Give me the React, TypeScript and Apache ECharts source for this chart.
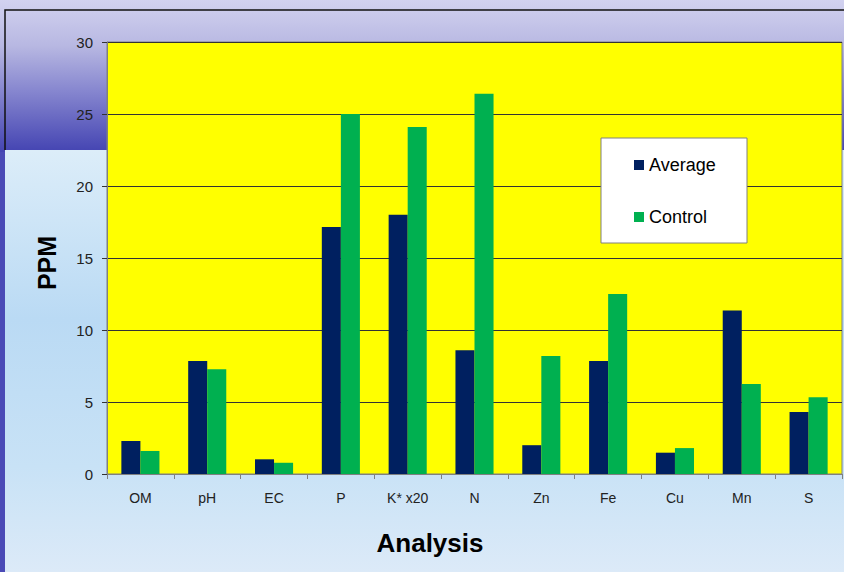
import React, { useEffect, useRef } from "react";
import * as echarts from "echarts";

const categories = ["OM", "pH", "EC", "P", "K* x20", "N", "Zn", "Fe", "Cu", "Mn", "S"];
const averageValues = [2.3, 7.85, 1.02, 17.15, 18.0, 8.6, 2.0, 7.85, 1.48, 11.35, 4.3];
const controlValues = [1.6, 7.27, 0.78, 25.0, 24.1, 26.4, 8.2, 12.5, 1.8, 6.25, 5.33];
const yTicks = { min: 0, max: 30, interval: 5 };

export default function App() {
  const ref = useRef<HTMLDivElement>(null);
  useEffect(() => {
    if (!ref.current) return;
    const chart = echarts.init(ref.current, undefined, { renderer: "svg" });
    const font = "'Liberation Sans', Arial, sans-serif";
    chart.setOption({
      animation: false,
      textStyle: { fontFamily: font },
      graphic: [
        {
          type: "rect",
          z: -10,
          silent: true,
          shape: { x: 0, y: 0, width: 844, height: 572 },
          style: { fill: "#4a4ab6" },
        },
        {
          type: "rect",
          z: -9,
          silent: true,
          shape: { x: 0, y: 0, width: 844, height: 152 },
          style: {
            fill: new echarts.graphic.LinearGradient(0, 0, 0, 1, [
              { offset: 0, color: "#d2d2f0" },
              { offset: 0.3, color: "#b8b8e2" },
              { offset: 0.6, color: "#8686cf" },
              { offset: 1, color: "#4444b2" },
            ]),
          },
        },
        {
          type: "rect",
          z: -8,
          silent: true,
          shape: { x: 5, y: 150, width: 839, height: 422 },
          style: {
            fill: new echarts.graphic.LinearGradient(0, 0, 0, 1, [
              { offset: 0, color: "#dcedf9" },
              { offset: 0.4, color: "#badaf4" },
              { offset: 0.75, color: "#c8e2f6" },
              { offset: 1, color: "#dceaf8" },
            ]),
          },
        },
        {
          type: "polyline",
          z: -7,
          silent: true,
          shape: { points: [[5, 150], [5, 10], [844, 10]] },
          style: { stroke: "#111", lineWidth: 1.5, fill: "none" },
        },
        {
          type: "rect",
          z: 5,
          silent: true,
          shape: { x: 601, y: 138, width: 146, height: 105 },
          style: { fill: "#ffffff", stroke: "#808080", lineWidth: 1 },
        },
        {
          type: "text",
          z: 6,
          silent: true,
          x: 47,
          y: 263,
          rotation: Math.PI / 2,
          style: {
            text: "PPM",
            font: `bold 25px ${font}`,
            fill: "#000",
            align: "center",
            verticalAlign: "middle",
          },
        },
        {
          type: "text",
          z: 6,
          silent: true,
          x: 430,
          y: 543,
          style: {
            text: "Analysis",
            font: `bold 26px ${font}`,
            fill: "#000",
            align: "center",
            verticalAlign: "middle",
          },
        },
      ],
      legend: {
        left: 634,
        top: 156,
        padding: 0,
        orient: "vertical",
        itemWidth: 10,
        itemHeight: 10,
        itemGap: 34,
        icon: "rect",
        z: 10,
        textStyle: { fontSize: 18, color: "#000", fontFamily: font },
        data: ["Average", "Control"],
      },
      grid: { left: 107, top: 42, width: 735, height: 432, show: true, borderColor: "#808080", borderWidth: 1, backgroundColor: "#ffff00" },
      xAxis: {
        type: "category",
        data: categories,
        axisLine: { show: true, lineStyle: { color: "#808080", width: 1 } },
        axisTick: { show: true, length: 5, lineStyle: { color: "#808080" } },
        axisLabel: { fontSize: 14, color: "#222", margin: 17, fontFamily: font },
      },
      yAxis: {
        type: "value",
        min: yTicks.min,
        max: yTicks.max,
        interval: yTicks.interval,
        axisLine: { show: true, lineStyle: { color: "#808080", width: 1 } },
        axisTick: { show: true, length: 5, lineStyle: { color: "#333" } },
        axisLabel: { fontSize: 15, color: "#222", margin: 14, fontFamily: font },
        splitLine: { show: true, lineStyle: { color: "#333", width: 1 } },
      },
      series: [
        {
          name: "Average",
          type: "bar",
          data: averageValues,
          barGap: "0%",
          barCategoryGap: "43%",
          itemStyle: { color: "#002060" },
        },
        {
          name: "Control",
          type: "bar",
          data: controlValues,
          barGap: "0%",
          barCategoryGap: "43%",
          itemStyle: { color: "#00b050" },
        },
      ],
    });
    return () => chart.dispose();
  }, []);
  return (
    <div
      ref={ref}
      style={{ position: "absolute", left: 0, top: 0, width: 844, height: 572 }}
    />
  );
}
